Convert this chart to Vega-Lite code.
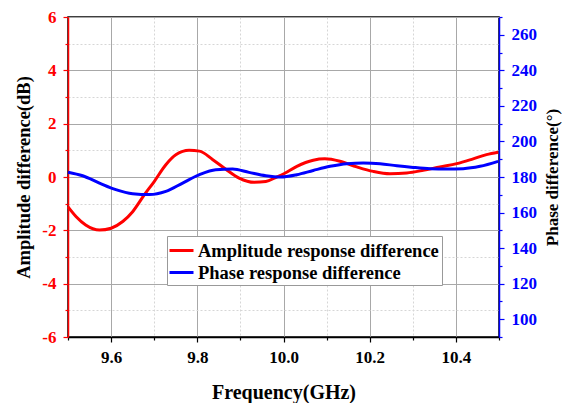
{
  "$schema": "https://vega.github.io/schema/vega-lite/v6.json",
  "width": 431,
  "height": 320,
  "autosize": {"type": "none"},
  "padding": {"left": 68, "top": 17, "right": 65, "bottom": 66},
  "background": "white",
  "config": {
    "view": {"stroke": "black", "strokeWidth": 1.5},
    "font": "Liberation Serif",
    "axis": {
      "labelFont": "Liberation Serif",
      "labelFontWeight": "bold",
      "labelFontSize": 17,
      "titleFont": "Liberation Serif",
      "titleFontWeight": "bold",
      "titleFontSize": 17,
      "titleColor": "black",
      "domainWidth": 1.5,
      "tickWidth": 1.2,
      "labelOverlap": false,
      "labelFlush": false,
      "labelBound": false
    },
    "legend": {
      "orient": "none",
      "legendX": 99,
      "legendY": 219,
      "direction": "vertical",
      "fillColor": "white",
      "strokeColor": "#999999",
      "padding": 3,
      "labelFont": "Liberation Serif",
      "labelFontWeight": "bold",
      "labelFontSize": 18.5,
      "labelColor": "black",
      "labelLimit": 400,
      "labelOffset": 5,
      "symbolType": "M-1.2,0H1.2",
      "symbolStrokeWidth": 3,
      "symbolSize": 400,
      "rowPadding": 1
    }
  },
  "datasets": {
    "amp": [
      {"freq": 9.500, "amp": -1.12},
      {"freq": 9.519, "amp": -1.49},
      {"freq": 9.541, "amp": -1.80},
      {"freq": 9.573, "amp": -1.99},
      {"freq": 9.600, "amp": -1.92},
      {"freq": 9.627, "amp": -1.67},
      {"freq": 9.650, "amp": -1.30},
      {"freq": 9.677, "amp": -0.67},
      {"freq": 9.700, "amp": -0.17},
      {"freq": 9.727, "amp": 0.46},
      {"freq": 9.751, "amp": 0.84},
      {"freq": 9.781, "amp": 1.00},
      {"freq": 9.805, "amp": 0.97},
      {"freq": 9.836, "amp": 0.65},
      {"freq": 9.867, "amp": 0.28},
      {"freq": 9.897, "amp": -0.04},
      {"freq": 9.932, "amp": -0.20},
      {"freq": 9.959, "amp": -0.17},
      {"freq": 9.983, "amp": -0.01},
      {"freq": 10.002, "amp": 0.13},
      {"freq": 10.031, "amp": 0.40},
      {"freq": 10.069, "amp": 0.63},
      {"freq": 10.096, "amp": 0.68},
      {"freq": 10.131, "amp": 0.59},
      {"freq": 10.170, "amp": 0.38},
      {"freq": 10.208, "amp": 0.21},
      {"freq": 10.247, "amp": 0.12},
      {"freq": 10.286, "amp": 0.15},
      {"freq": 10.324, "amp": 0.25},
      {"freq": 10.363, "amp": 0.38},
      {"freq": 10.402, "amp": 0.50},
      {"freq": 10.440, "amp": 0.68},
      {"freq": 10.471, "amp": 0.84},
      {"freq": 10.498, "amp": 0.93}
    ],
    "phase": [
      {"freq": 9.500, "phase": 182.7},
      {"freq": 9.534, "phase": 180.7},
      {"freq": 9.573, "phase": 176.6},
      {"freq": 9.611, "phase": 172.9},
      {"freq": 9.650, "phase": 170.6},
      {"freq": 9.689, "phase": 170.1},
      {"freq": 9.727, "phase": 171.9},
      {"freq": 9.766, "phase": 176.6},
      {"freq": 9.805, "phase": 181.3},
      {"freq": 9.843, "phase": 184.1},
      {"freq": 9.882, "phase": 184.5},
      {"freq": 9.920, "phase": 182.6},
      {"freq": 9.959, "phase": 180.7},
      {"freq": 9.993, "phase": 180.0},
      {"freq": 10.031, "phase": 181.3},
      {"freq": 10.069, "phase": 183.7},
      {"freq": 10.108, "phase": 186.0},
      {"freq": 10.147, "phase": 187.5},
      {"freq": 10.185, "phase": 187.9},
      {"freq": 10.224, "phase": 187.5},
      {"freq": 10.263, "phase": 186.3},
      {"freq": 10.301, "phase": 185.4},
      {"freq": 10.340, "phase": 184.7},
      {"freq": 10.379, "phase": 184.5},
      {"freq": 10.417, "phase": 184.7},
      {"freq": 10.456, "phase": 186.0},
      {"freq": 10.498, "phase": 188.8}
    ]
  },
  "encoding": {
    "x": {
      "field": "freq",
      "type": "quantitative",
      "scale": {"domain": [9.5, 10.5], "nice": false, "zero": false},
      "axis": {
        "title": "Frequency(GHz)",
        "titleFontSize": 20,
        "values": [9.5, 9.6, 9.7, 9.8, 9.9, 10.0, 10.1, 10.2, 10.3, 10.4, 10.5],
        "labelExpr": "round(datum.value*10)%2==0 ? format(datum.value,'.1f') : ''",
        "grid": true,
        "gridColor": {"condition": {"test": "round(datum.value*10)%2==0", "value": "#a8a8a8"}, "value": "#d6d6d6"},
        "gridDash": {"condition": {"test": "round(datum.value*10)%2==0", "value": []}, "value": [2, 2]},
        "gridWidth": 1,
        "tickSize": {"condition": {"test": "round(datum.value*10)%2==0", "value": 5}, "value": 3},
        "domainColor": "black",
        "tickColor": "black",
        "labelColor": "black",
        "labelPadding": 7,
        "titlePadding": 17
      }
    }
  },
  "layer": [
    {
      "data": {"name": "amp"},
      "mark": {"type": "line", "strokeWidth": 3, "interpolate": "monotone"},
      "encoding": {
        "y": {
          "field": "amp",
          "type": "quantitative",
          "scale": {"domain": [-6, 6], "nice": false},
          "axis": {
            "title": "Amplitude difference(dB)",
            "titleFontSize": 18.5,
            "values": [-6, -5, -4, -3, -2, -1, 0, 1, 2, 3, 4, 5, 6],
            "labelExpr": "datum.value % 2 == 0 ? '' + datum.value : ''",
            "grid": true,
            "gridColor": {"condition": {"test": "datum.value % 2 == 0", "value": "#a8a8a8"}, "value": "#d6d6d6"},
            "gridDash": {"condition": {"test": "datum.value % 2 == 0", "value": []}, "value": [2, 2]},
            "tickSize": {"condition": {"test": "datum.value % 2 == 0", "value": 5}, "value": 3},
            "domainColor": "#ff0000",
            "tickColor": "#ff0000",
            "labelColor": "#ff0000",
            "labelPadding": 7,
            "titlePadding": 8
          }
        },
        "color": {
          "datum": "Amplitude response difference",
          "type": "nominal",
          "scale": {"domain": ["Amplitude response difference", "Phase response difference"], "range": ["#ff0000", "#0000ff"]},
          "legend": {"title": null}
        }
      }
    },
    {
      "data": {"name": "phase"},
      "mark": {"type": "line", "strokeWidth": 3, "interpolate": "monotone"},
      "encoding": {
        "y": {
          "field": "phase",
          "type": "quantitative",
          "scale": {"domain": [90, 270], "nice": false, "zero": false},
          "axis": {
            "orient": "right",
            "title": "Phase difference(°)",
            "titleAngle": 270,
            "titleBaseline": "top",
            "values": [90, 100, 110, 120, 130, 140, 150, 160, 170, 180, 190, 200, 210, 220, 230, 240, 250, 260, 270],
            "labelExpr": "datum.value % 20 == 0 ? '' + datum.value : ''",
            "grid": false,
            "tickSize": {"condition": {"test": "datum.value % 20 == 0", "value": 5}, "value": 3},
            "domainColor": "#0000ff",
            "tickColor": "#0000ff",
            "labelColor": "#0000ff",
            "labelPadding": 7,
            "titlePadding": 8
          }
        },
        "color": {
          "datum": "Phase response difference",
          "type": "nominal"
        }
      }
    }
  ],
  "resolve": {"scale": {"y": "independent"}}
}
